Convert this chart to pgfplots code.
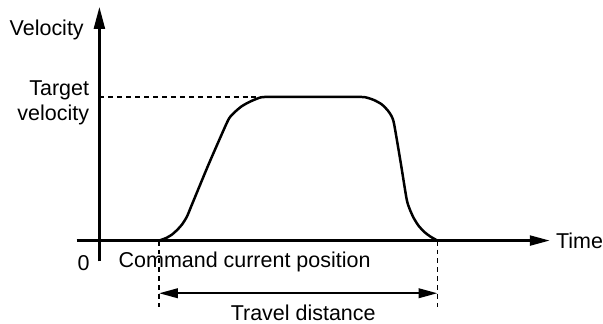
\documentclass[border=0pt]{standalone}
\usepackage{fontspec}
\setmainfont{Liberation Sans}
\usepackage{pgfplots}
\pgfplotsset{compat=1.18}
\usetikzlibrary{arrows.meta}

\begin{document}
\fontsize{10.8}{12.8}\selectfont
\begin{tikzpicture}
\begin{axis}[
    x=0.5pt, y=0.5pt,
    xmin=0, xmax=603, ymin=0, ymax=325,
    y dir=reverse,
    hide axis, clip=false,
    every axis plot/.append style={black},
]
% keeps the page at the reference size
\path (axis cs:0,0) rectangle (axis cs:603,325);

% axes
\addplot[line width=1.15pt, -{Triangle[length=11pt,width=5.5pt]}] coordinates {(100,263) (100,7)};
\addplot[line width=1.15pt, -{Triangle[length=10pt,width=5pt]}] coordinates {(77,242) (553,242)};

% guide lines
\addplot[line width=0.75pt, dash pattern=on 2.5pt off 2pt] coordinates {(100,97.5) (267,97.5)};
\addplot[line width=0.75pt, dash pattern=on 2.5pt off 2pt] coordinates {(160,242) (160,309)};
\addplot[line width=0.75pt, dash pattern=on 2.5pt off 2pt] coordinates {(440,242) (440,309)};
\addplot[line width=1.1pt, {Triangle[length=9.5pt,width=4.8pt]}-{Triangle[length=9.5pt,width=4.8pt]}] coordinates {(160,295) (440,295)};

% velocity profile
\addplot[line width=1.25pt, smooth, tension=0.4] coordinates {
    (160,242) (167,239.5) (173,236) (178,231.5) (183,226) (188,218) (193,206)
    (210,165) (228,124) (232,117) (237,112) (243,107) (250,103) (258,99.5)
    (267,97.5) (314,97.5) (362,97.5) (370,98.5) (377,101) (384,105) (390,111)
    (394,117) (396.5,125) (403,163) (409,200) (412,210) (416,219) (421,227)
    (427,233.5) (433,238) (440,242)
};

% labels
\node[anchor=center] at (axis cs:47,30) {Velocity};
\node[anchor=east, align=right, inner sep=0pt] at (axis cs:90,103.5) {Target\\velocity};
\node[anchor=center, inner sep=0pt] at (axis cs:84,265) {0};
\node[anchor=west, inner sep=0pt] at (axis cs:119,264) {Command current position};
\node[anchor=west, inner sep=0pt] at (axis cs:559,242) {Time};
\node[anchor=center, inner sep=0pt] at (axis cs:305,315) {Travel distance};
\end{axis}
\end{tikzpicture}
\end{document}
